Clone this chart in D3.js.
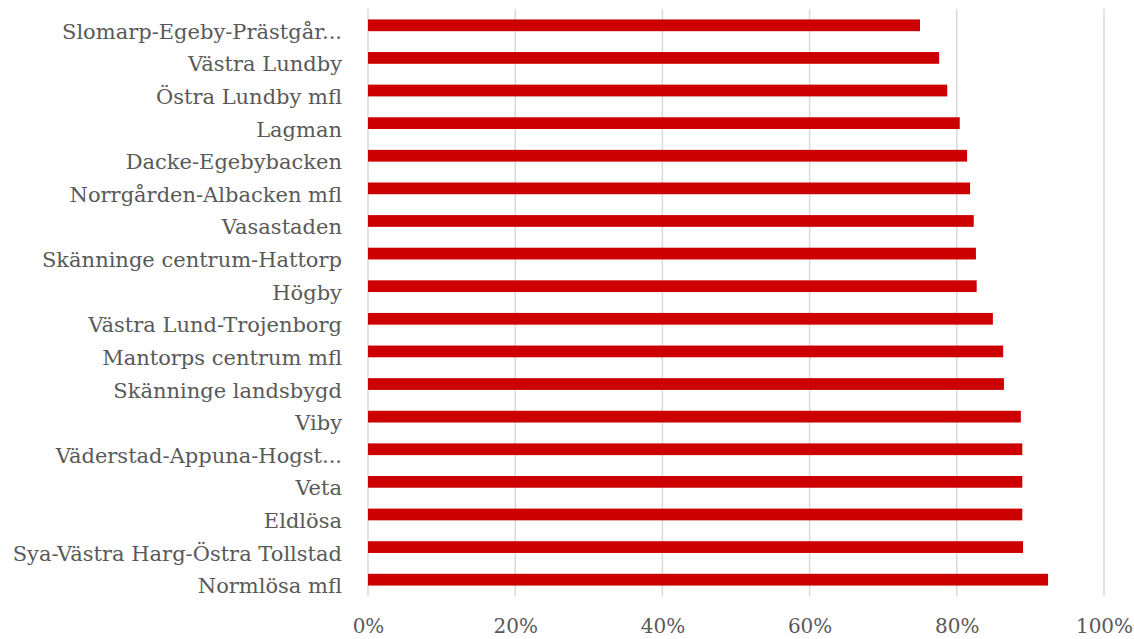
<!DOCTYPE html>
<html>
<head>
<meta charset="utf-8">
<script src="https://cdn.jsdelivr.net/npm/d3@7"></script>
<style>
  html, body { margin: 0; padding: 0; background: #ffffff; }
  svg { display: block; }
  .lbl { font-family: "DejaVu Serif", "Liberation Serif", serif; fill: #595959; }
</style>
</head>
<body>
<svg id="chart" width="1134" height="639"></svg>
<script>
// Area names, top to bottom
const areas = [
  "Slomarp-Egeby-Prästgår...",
  "Västra Lundby",
  "Östra Lundby mfl",
  "Lagman",
  "Dacke-Egebybacken",
  "Norrgården-Albacken mfl",
  "Vasastaden",
  "Skänninge centrum-Hattorp",
  "Högby",
  "Västra Lund-Trojenborg",
  "Mantorps centrum mfl",
  "Skänninge landsbygd",
  "Viby",
  "Väderstad-Appuna-Hogst...",
  "Veta",
  "Eldlösa",
  "Sya-Västra Harg-Östra Tollstad",
  "Normlösa mfl"
];

// Share per area (0–1)
const shares = [
  0.750, 0.776, 0.787, 0.804, 0.814, 0.818,
  0.823, 0.826, 0.827, 0.849, 0.863, 0.864,
  0.887, 0.889, 0.889, 0.889, 0.890, 0.924
];

// Axis ticks
const xTicks = [0, 0.2, 0.4, 0.6, 0.8, 1.0];

const svg = d3.select("#chart");
const margin = { left: 368, right: 30, top: 9, bottom: 43 };
const W = 1134, H = 639;

const x = d3.scaleLinear().domain([0, 1]).range([margin.left, W - margin.right]);
const y = d3.scaleBand().domain(areas).range([margin.top, H - margin.bottom]).paddingInner(0.64).paddingOuter(0.32);

// Vertical gridlines
svg.append("g")
  .selectAll("line")
  .data(xTicks)
  .join("line")
  .attr("x1", d => x(d)).attr("x2", d => x(d))
  .attr("y1", margin.top).attr("y2", H - margin.bottom)
  .attr("stroke", "#d9d9d9")
  .attr("stroke-width", 1.5);

// Bars
svg.append("g")
  .selectAll("rect")
  .data(areas.map((a, i) => ({ a, v: shares[i] })))
  .join("rect")
  .attr("x", x(0))
  .attr("y", d => y(d.a))
  .attr("width", d => x(d.v) - x(0))
  .attr("height", y.bandwidth())
  .attr("fill", "#cc0000");

// Category labels (sit slightly below the bar centre line)
const yAxis = d3.axisLeft(y).tickSize(0).tickPadding(26);
const gy = svg.append("g").attr("transform", `translate(${x(0)},0)`).call(yAxis);
gy.select(".domain").remove();
gy.selectAll("text").attr("class", "lbl").attr("font-size", 21).attr("dy", 13.5).attr("font-family", null).attr("fill", null);

// X-axis labels
const xAxis = d3.axisBottom(x).tickValues(xTicks).tickFormat(d3.format(".0%")).tickSize(0).tickPadding(23);
const gx = svg.append("g").attr("transform", `translate(0,${H - margin.bottom})`).call(xAxis);
gx.select(".domain").remove();
gx.selectAll("text").attr("class", "lbl").attr("font-size", 20).attr("font-family", null).attr("fill", null);
</script>
</body>
</html>
